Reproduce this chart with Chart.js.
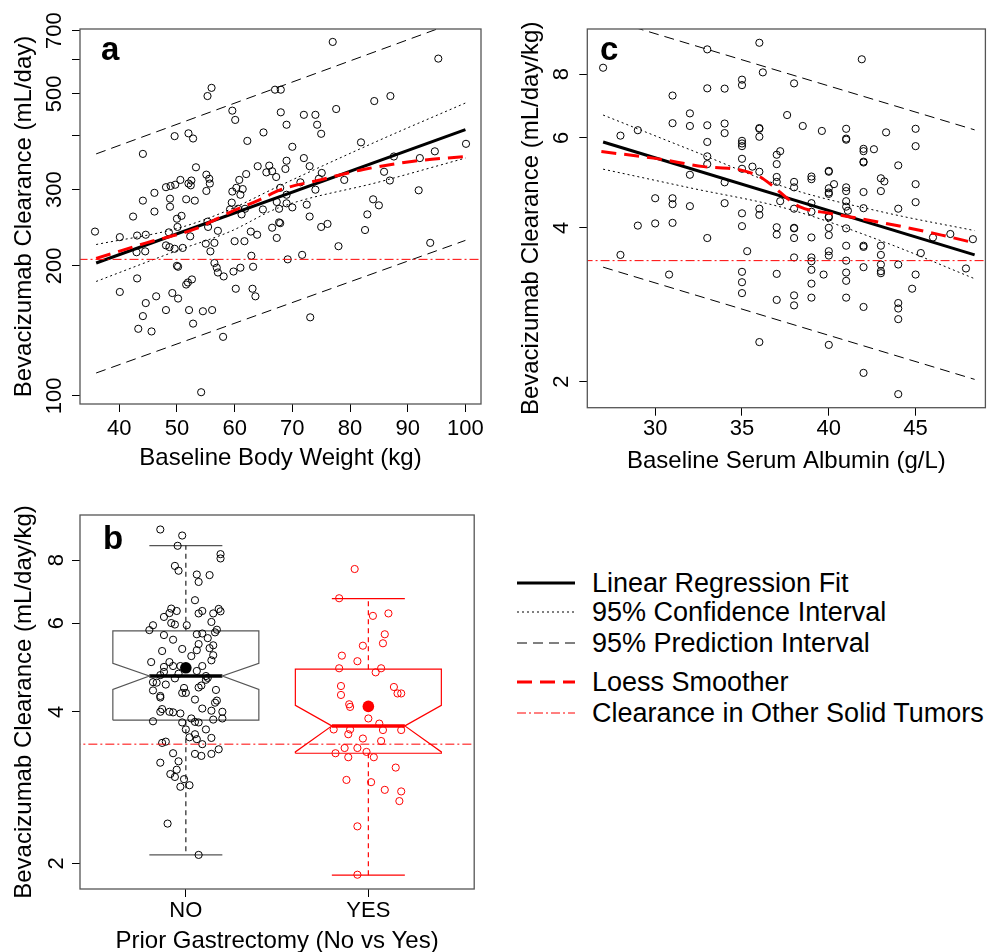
<!DOCTYPE html>
<html>
<head>
<meta charset="utf-8">
<script src="https://cdn.jsdelivr.net/npm/chart.js@4.4.1/dist/chart.umd.min.js"></script>
<style>
  body { margin: 0; background: #fff; width: 990px; height: 952px; position: relative; overflow: hidden;
         font-family: "Liberation Sans", Arial, Helvetica, sans-serif; }
  canvas { position: absolute; }
  #legend { position: absolute; left: 0; top: 0; }
  .row { position: absolute; left: 517px; height: 30px; display: flex; align-items: center; white-space: nowrap; }
  .row svg { width: 58px; height: 10px; margin-right: 17px; }
  .row span { font-size: 27px; color: #000; }
</style>
</head>
<body>
<canvas id="ca" width="490" height="485" style="left:0;top:0"></canvas>
<canvas id="cc" width="500" height="485" style="left:490px;top:0"></canvas>
<canvas id="cb" width="480" height="462" style="left:0;top:490px"></canvas>
<div id="legend"></div>
<script>
// ---- panel a: body weight vs clearance (mL/day)
const weightKg = [
  44.1,49.6,52.0,52.8,55.3,56.0,59.6,60.1,62.2,65.0,67.0,68.0,68.0,69.0,70.0,72.0,74.0,74.3,75.0,77.0,
  77.6,81.9,84.2,87.0,95.3,100.1,94.7,92.1,87.6,69.0,
  68.8,72.0,73.0,75.1,74.6,71.4,74.0,79.0,85.9,86.9,91.9,67.9,69.0,69.0,70.0,72.5,73.0,67.9,75.0,76.1,
  84.0,85.0,83.0,82.6,78.0,93.9,69.2,71.7,53.3,55.1,55.6,55.7,55.1,52.5,52.0,52.4,50.6,49.7,48.9,48.1,
  46.1,44.1,48.8,48.8,51.6,53.1,46.1,42.4,50.8,50.0,35.8,40.1,43.1,44.6,48.6,50.1,52.3,55.3,57.1,55.4,
  59.6,60.3,61.4,61.0,60.8,62.0,64.0,66.0,66.5,65.5,67.2,59.5,60.6,59.2,61.2,61.8,64.9,67.3,67.7,62.8,
  63.9,66.5,67.7,67.3,60.0,61.7,55.0,56.5,51.0,49.6,48.7,48.1,44.5,43.0,
  55.8,62.9,56.5,56.9,57.1,58.1,50.0,50.2,59.8,61.0,63.2,43.1,52.6,51.9,51.6,40.1,46.4,49.2,50.2,60.2,
  63.1,63.6,44.6,48.1,52.1,54.5,56.1,44.1,52.8,43.3,45.6,58.0,73.1,54.2
];
const clearanceA = [
  363,399,405,394,494,516,457,435,389,407,511,511,453,424,377,447,447,424,404,659,
  461,386,481,494,603,383,368,355,358,350,
  335,355,340,328,318,312,300,316,330,315,299,303,292,279,273,277,260,251,246,250,
  285,276,263,242,222,226,207,212,338,325,318,310,298,315,310,307,316,308,306,304,
  295,283,286,274,285,283,267,260,261,257,240,233,235,236,239,246,234,253,241,246,
  297,303,301,292,316,326,340,341,331,329,321,280,271,270,263,271,270,281,271,240,
  236,245,252,232,228,228,225,226,220,219,221,223,216,215,
  216,211,203,198,193,189,200,199,194,198,199,187,186,183,181,174,170,173,168,177,
  177,170,164,158,158,157,158,153,147,143,141,137,152,102
];
const fitAX = [36, 100];
const fitAY = [203, 413];
const ciAX = [36, 50.5, 59.2, 67.5, 85.2, 100];
const ciAUp = [224, 245, 270, 305, 391, 476];
const ciALo = [184, 218, 240, 272, 313, 355];
const piAX = [36, 100];
const piAUp = [363, 746];
const piALo = [113, 229];
const loessAX = [36, 44.7, 53.4, 59.2, 64, 68, 74.8, 82.3, 91, 100];
const loessAY = [208, 226, 244, 266, 283, 300, 316, 334, 349, 358];
const otherTumorsA = 207;
const aXTicks = [40, 50, 60, 70, 80, 90, 100];
const aYTicks = [100, 200, 300, 400, 500, 600, 700];
const aYLabels = ['100', '200', '300', '', '500', '', '700'];

// ---- panel c: serum albumin vs clearance (mL/day/kg)
const albumin = [
  27.0,28.0,29.0,31.0,31.0,32.0,32.0,33.0,33.0,33.0,33.0,33.0,33.0,32.0,34.0,34.0,34.0,34.0,34.0,35.0,
  35.0,35.0,35.0,35.0,35.0,35.0,35.0,35.0,35.6,36.0,36.2,36.0,36.0,36.0,36.0,36.0,36.0,38.0,37.6,37.0,
  37.2,37.0,37.0,37.0,37.2,37.0,37.0,38.5,38.0,38.0,38.0,38.0,38.0,39.0,39.0,39.0,39.0,39.6,40.0,40.0,
  40.0,40.0,40.0,40.3,40.0,40.0,41.0,41.0,41.0,41.0,41.0,41.0,41.0,41.1,41.0,42.0,42.0,42.0,42.0,41.9,
  42.6,42.0,42.0,43.0,43.2,43.0,43.3,44.0,44.0,45.0,45.0,45.0,45.0,46.0,47.0,48.3,30.0,31.0,31.0,32.0,
  28.0,29.0,30.0,31.0,30.8,33.0,35.3,35.0,35.0,35.0,36.0,37.0,37.0,38.0,38.0,38.0,38.0,39.0,39.0,39.0,
  39.0,39.0,39.0,39.7,40.0,40.0,40.0,40.0,40.0,41.0,41.0,41.0,41.0,41.0,42.0,42.0,42.0,42.0,42.0,43.0,
  43.0,43.0,43.0,43.0,44.0,44.0,44.0,44.0,44.0,44.8,45.0,45.3,47.9
];
const clearanceC = [
  8.23,6.06,6.21,7.26,6.41,6.70,6.33,8.94,7.50,6.35,5.89,5.52,5.33,5.08,7.49,6.40,6.13,4.91,4.47,7.80,
  7.61,5.92,5.85,5.78,5.46,5.22,4.27,4.03,5.27,9.21,8.06,6.27,6.25,6.03,5.15,4.36,4.24,7.67,6.65,5.56,
  5.65,5.33,5.03,4.92,4.51,4.01,3.88,6.33,4.92,4.80,4.36,4.00,3.99,5.04,4.98,4.47,4.30,6.19,5.17,5.15,
  4.78,4.69,4.66,4.87,4.21,4.19,6.25,5.98,5.95,4.80,4.72,4.51,4.40,4.32,3.99,5.71,5.65,5.39,5.37,8.55,
  5.70,4.70,4.37,5.00,4.93,4.72,6.15,5.30,4.36,6.25,5.78,4.87,4.49,3.83,3.89,3.80,4.57,4.57,4.45,4.41,
  3.54,4.04,4.08,4.09,3.24,3.82,3.60,3.28,3.13,2.98,2.39,3.25,2.89,3.82,3.50,2.95,2.82,3.83,3.50,3.44,
  3.31,3.11,2.92,3.24,4.00,3.87,3.60,3.53,2.36,3.69,3.45,3.27,3.15,2.92,3.69,3.67,3.35,2.80,2.08,3.69,
  3.54,3.39,3.29,3.26,3.39,2.85,2.78,2.65,1.89,3.04,3.24,3.57,3.33
];
const fitCX = [27, 48.4];
const fitCY = [5.89, 3.54];
const ciCX = [27, 32, 37.6, 43.3, 48.4];
const ciCUp = [6.65, 5.69, 4.79, 4.28, 3.95];
const ciCLo = [5.21, 4.79, 4.36, 3.74, 3.18];
const piCX = [27, 48.4];
const piCUp = [10.3, 6.22];
const piCLo = [3.35, 2.02];
const loessCX = [26.9, 30, 32.8, 34.9, 36, 36.8, 37.6, 38.3, 40.05, 41.96, 44.25, 46.5, 48.35];
const loessCY = [5.64, 5.47, 5.27, 5.19, 5.04, 4.82, 4.57, 4.40, 4.27, 4.16, 4.02, 3.87, 3.74];
const otherTumorsC = 3.45;
const cXTicks = [30, 35, 40, 45];
const cYTicks = [2, 4, 6, 8];
const cYLabels = ['2', '4', '6', '8'];

// ---- panel b: prior gastrectomy boxplots (mL/day/kg)
const groupNames = ['NO', 'YES'];
const groupPos = [1, 2];
const jitterNo = [
  0.86,0.98,0.955,1.19,1.19,0.94,0.96,1.06,1.13,1.07,1.05,0.92,0.95,0.91,0.88,1.09,1.07,1.18,1.19,1.15,
  1.14,0.92,0.94,1.005,0.82,0.80,1.17,1.16,0.88,1.06,1.09,1.12,0.93,1.15,1.07,1.06,0.87,0.98,1.13,1.03,
  1.15,1.14,0.81,0.91,0.93,0.88,0.97,1.06,1.09,0.88,0.86,0.96,0.94,1.11,1.12,1.11,0.82,0.84,0.89,1.085,
  1.07,0.82,0.98,1.00,0.99,1.165,0.86,0.86,1.05,1.17,1.16,1.09,1.14,0.87,0.86,0.91,0.93,0.97,1.20,1.20,
  1.15,0.82,1.03,1.05,1.07,0.98,1.11,1.00,1.05,1.02,1.14,1.06,0.87,0.89,1.09,0.93,0.96,1.05,1.085,1.14,
  1.18,0.86,0.95,0.915,0.94,0.99,1.02,0.97,0.90,1.07
];
const clearanceNo = [
  9.20,8.95,8.54,8.22,8.06,7.79,7.62,7.49,7.47,7.24,6.66,6.41,6.34,6.28,6.17,6.34,6.27,6.40,6.33,6.27,
  6.03,6.00,5.96,5.94,5.94,5.81,5.82,5.75,5.68,5.70,5.72,5.60,5.56,5.42,5.45,5.30,5.28,5.33,5.35,5.16,
  5.18,5.06,5.02,5.02,4.93,4.91,4.93,4.82,4.93,4.80,4.73,4.76,4.66,4.71,4.67,4.63,4.58,4.57,4.53,4.51,
  4.47,4.41,4.36,4.36,4.46,4.42,4.30,4.27,4.23,4.21,4.17,4.06,4.02,4.05,4.00,4.00,3.99,3.97,4.00,3.88,
  3.86,3.83,3.88,3.82,3.81,3.81,3.69,3.69,3.61,3.56,3.55,3.53,3.47,3.49,3.45,3.31,3.19,3.30,3.27,3.30,
  3.37,3.17,3.07,3.01,2.97,2.94,2.86,2.84,2.40,2.08
];
const jitterYes = [
  1.925,1.84,2.025,2.11,2.09,2.08,1.97,1.855,1.94,1.84,2.07,2.04,1.85,2.14,2.16,2.18,1.85,1.895,1.90,2.0,
  2.06,1.81,1.90,2.08,2.18,1.89,1.97,2.07,1.87,1.94,1.99,1.82,1.89,2.03,2.15,1.88,2.015,2.09,2.18,2.17,
  1.94,1.94
];
const clearanceYes = [
  7.68,6.72,6.20,6.27,5.70,5.47,5.41,5.17,5.04,4.88,4.88,4.79,4.50,4.48,4.35,4.35,4.32,4.14,4.09,3.88,
  3.79,3.69,3.69,3.68,3.68,3.61,3.54,3.50,3.39,3.39,3.33,3.31,3.25,3.25,3.10,2.93,2.90,2.80,2.78,2.66,
  2.37,1.90
];
// box statistics per group: NO, YES
const boxQ1 = [3.85, 3.31];
const boxMedian = [4.71, 3.75];
const boxQ3 = [5.79, 4.86];
const notchLo = [4.43, 3.33];
const notchHi = [4.99, 4.12];
const whiskerLo = [2.08, 1.896];
const whiskerHi = [8.55, 6.71];
const groupMean = [4.89, 4.10];
const otherTumorsB = 3.45;
const bYTicks = [2, 4, 6, 8];
const bYLabels = ['2', '4', '6', '8'];

const legendLabels = ['Linear Regression Fit', '95% Confidence Interval', '95% Prediction Interval',
                      'Loess Smoother', 'Clearance in Other Solid Tumors'];

// ---------------------------------------------------------------
Chart.defaults.font.family = '"Liberation Sans", Arial, Helvetica, sans-serif';
Chart.defaults.color = '#000';

const RED = '#ff0000';
const DOT = [2, 3], DASH = [10, 6], LDASH = [15, 8], DASHDOT = [9, 3, 2, 3];

// box frame, rotated y tick labels and the panel letter, like base R graphics
const rFrame = {
  id: 'rFrame',
  afterDraw(chart, args, o) {
    const { ctx, chartArea: a } = chart;
    const ys = chart.scales.y;
    ctx.save();
    ctx.strokeStyle = '#555';
    ctx.lineWidth = 1.3;
    ctx.strokeRect(a.left, a.top, a.right - a.left, a.bottom - a.top);
    ctx.fillStyle = '#000';
    ctx.font = '22px "Liberation Sans", Arial, sans-serif';
    ctx.textAlign = 'center';
    ctx.textBaseline = 'middle';
    ys.ticks.forEach(t => {
      const lab = o.labels[o.ticks.indexOf(t.value)];
      if (!lab) return;
      ctx.save();
      ctx.translate(o.labelX, ys.getPixelForValue(t.value));
      ctx.rotate(-Math.PI / 2);
      ctx.fillText(lab, 0, 1);
      ctx.restore();
    });
    ctx.font = 'bold 33px "Liberation Sans", Arial, sans-serif';
    ctx.textAlign = 'left';
    ctx.textBaseline = 'alphabetic';
    ctx.fillText(o.letter, o.letterX, o.letterY);
    ctx.restore();
  }
};

function pts(xs, ys) { return xs.map((x, i) => ({ x: x, y: ys[i] })); }

function line(xs, ys, color, width, dash, smooth) {
  return {
    type: 'line', data: pts(xs, ys), borderColor: color, borderWidth: width,
    borderDash: dash || [], pointRadius: 0, fill: false, tension: 0,
    cubicInterpolationMode: smooth ? 'monotone' : 'default'
  };
}

function scatter(xs, ys, color) {
  return {
    type: 'scatter', data: pts(xs, ys), borderColor: color, backgroundColor: 'rgba(0,0,0,0)',
    borderWidth: 1, pointRadius: 3.6, pointHoverRadius: 3.6
  };
}

function axes(o) {
  const tickGrid = { display: true, drawOnChartArea: false, drawTicks: true, tickLength: 8, color: '#000', lineWidth: 1 };
  return {
    x: {
      type: 'linear', min: o.xmin, max: o.xmax,
      afterFit: s => { s.height = o.xh; },
      afterBuildTicks: s => { s.ticks = o.xticks.map(v => ({ value: v })); },
      grid: tickGrid, border: { display: false },
      ticks: { font: { size: 22 }, padding: o.xpad, color: '#000', maxRotation: 0, autoSkip: false, callback: o.xcb },
      title: { display: true, text: o.xtitle, color: '#000', font: { size: 24, lineHeight: 1 }, padding: { top: 0, bottom: o.xtp } }
    },
    y: {
      type: 'logarithmic', min: o.ymin, max: o.ymax,
      afterFit: s => { s.width = o.yw; },
      afterBuildTicks: s => { s.ticks = o.yticks.map(v => ({ value: v })); },
      grid: tickGrid, border: { display: false },
      ticks: { display: false },
      title: { display: true, text: o.ytitle, color: '#000', font: { size: 24, lineHeight: 1 }, padding: { top: o.ytp, bottom: 0 } }
    }
  };
}

function baseOptions(pad, scales, frame) {
  return {
    responsive: false, animation: false, events: [],
    layout: { padding: pad },
    plugins: { legend: { display: false }, tooltip: { enabled: false }, rFrame: frame },
    scales: scales
  };
}

// ---- panel a
new Chart(document.getElementById('ca'), {
  type: 'scatter',
  data: {
    datasets: [
      line([aXTicks[0] - 10, aXTicks[aXTicks.length - 1] + 10], [otherTumorsA, otherTumorsA], RED, 1, DASHDOT),
      line(loessAX, loessAY, RED, 3, LDASH, true),
      line(fitAX, fitAY, '#000', 3),
      line(ciAX, ciAUp, '#000', 1, DOT, true),
      line(ciAX, ciALo, '#000', 1, DOT, true),
      line(piAX, piAUp, '#000', 1, DASH),
      line(piAX, piALo, '#000', 1, DASH),
      scatter(weightKg, clearanceA, '#000')
    ]
  },
  options: baseOptions({ top: 29, right: 9, left: 0, bottom: 0 }, axes({
    xmin: 33.2, xmax: 102.7, xh: 81, xticks: aXTicks, xpad: 3.5, xtp: 15,
    xtitle: 'Baseline Body Weight (kg)',
    ymin: 95.8, ymax: 706, yw: 80, yticks: aYTicks, ytp: 12,
    ytitle: 'Bevacizumab Clearance (mL/day)'
  }), { ticks: aYTicks, labels: aYLabels, labelX: 54, letter: 'a', letterX: 101, letterY: 60 }),
  plugins: [rFrame]
});

// ---- panel c
new Chart(document.getElementById('cc'), {
  type: 'scatter',
  data: {
    datasets: [
      line([cXTicks[0] - 10, cXTicks[cXTicks.length - 1] + 10], [otherTumorsC, otherTumorsC], RED, 1, DASHDOT),
      line(loessCX, loessCY, RED, 3, LDASH, true),
      line(fitCX, fitCY, '#000', 3),
      line(ciCX, ciCUp, '#000', 1, DOT, true),
      line(ciCX, ciCLo, '#000', 1, DOT, true),
      line(piCX, piCUp, '#000', 1, DASH),
      line(piCX, piCLo, '#000', 1, DASH),
      scatter(albumin, clearanceC, '#000')
    ]
  },
  options: baseOptions({ top: 29, right: 2, left: 0, bottom: 0 }, axes({
    xmin: 26.09, xmax: 49.02, xh: 77.3, xticks: cXTicks, xpad: 0.5, xtp: 12,
    xtitle: 'Baseline Serum Albumin (g/L)',
    ymin: 1.778, ymax: 9.8, yw: 97.3, yticks: cYTicks, ytp: 29,
    ytitle: 'Bevacizumab Clearance (mL/day/kg)'
  }), { ticks: cYTicks, labels: cYLabels, labelX: 71, letter: 'c', letterX: 110, letterY: 60 }),
  plugins: [rFrame]
});

// ---- panel b
const boxSets = [];
const boxColors = ['#555', RED];
const whiskerColors = ['#222', RED];
groupPos.forEach((g, i) => {
  const w = 0.4, n = 0.2;
  const c = boxColors[i];
  boxSets.push(line(
    [g - w, g + w, g + w, g + n, g + w, g + w, g - w, g - w, g - n, g - w, g - w],
    [boxQ1[i], boxQ1[i], notchLo[i], boxMedian[i], notchHi[i], boxQ3[i], boxQ3[i], notchHi[i], boxMedian[i], notchLo[i], boxQ1[i]],
    c, 1.2));
  boxSets.push(line([g - n, g + n], [boxMedian[i], boxMedian[i]], i ? RED : '#000', 3.5));
  boxSets.push(line([g, g], [boxQ3[i], whiskerHi[i]], whiskerColors[i], 1.2, [5, 4]));
  boxSets.push(line([g, g], [boxQ1[i], whiskerLo[i]], whiskerColors[i], 1.2, [5, 4]));
  boxSets.push(line([g - n, g + n], [whiskerHi[i], whiskerHi[i]], c, 1.2));
  boxSets.push(line([g - n, g + n], [whiskerLo[i], whiskerLo[i]], c, 1.2));
});

new Chart(document.getElementById('cb'), {
  type: 'scatter',
  data: {
    datasets: [
      {
        type: 'scatter', data: pts(groupPos, groupMean), backgroundColor: ['#000', RED], borderColor: ['#000', RED],
        pointRadius: 5.8, borderWidth: 0
      },
      line([0, 3], [otherTumorsB, otherTumorsB], RED, 1, DASHDOT),
      scatter(jitterNo, clearanceNo, '#000'),
      scatter(jitterYes, clearanceYes, RED)
    ].concat(boxSets)
  },
  options: baseOptions({ top: 25, right: 3.3, left: 0, bottom: 0 }, axes({
    xmin: 0.42, xmax: 2.58, xh: 63, xticks: groupPos, xpad: 1, xtp: -1,
    xcb: v => groupNames[groupPos.indexOf(v)] || '',
    xtitle: 'Prior Gastrectomy (No vs Yes)',
    ymin: 1.78, ymax: 9.83, yw: 80, yticks: bYTicks, ytp: 12,
    ytitle: 'Bevacizumab Clearance (mL/day/kg)'
  }), { ticks: bYTicks, labels: bYLabels, labelX: 56, letter: 'b', letterX: 103, letterY: 549 - 490 }),
  plugins: [rFrame]
});

// ---- legend
const legendStyles = [
  { c: '#000', w: 3, d: '' },
  { c: '#000', w: 1, d: '2 3' },
  { c: '#000', w: 1, d: '10 6' },
  { c: RED, w: 3, d: '15 8' },
  { c: RED, w: 1, d: '9 3 2 3' }
];
const legendRowY = [583, 612, 643, 682, 713];
const leg = document.getElementById('legend');
legendLabels.forEach((t, i) => {
  const s = legendStyles[i];
  const row = document.createElement('div');
  row.className = 'row';
  row.style.top = (legendRowY[i] - 15) + 'px';
  row.innerHTML = '<svg viewBox="0 0 58 10"><line x1="0" y1="5" x2="58" y2="5" stroke="' + s.c +
    '" stroke-width="' + s.w + '" stroke-dasharray="' + s.d + '"/></svg><span>' + t + '</span>';
  leg.appendChild(row);
});
</script>
</body>
</html>
